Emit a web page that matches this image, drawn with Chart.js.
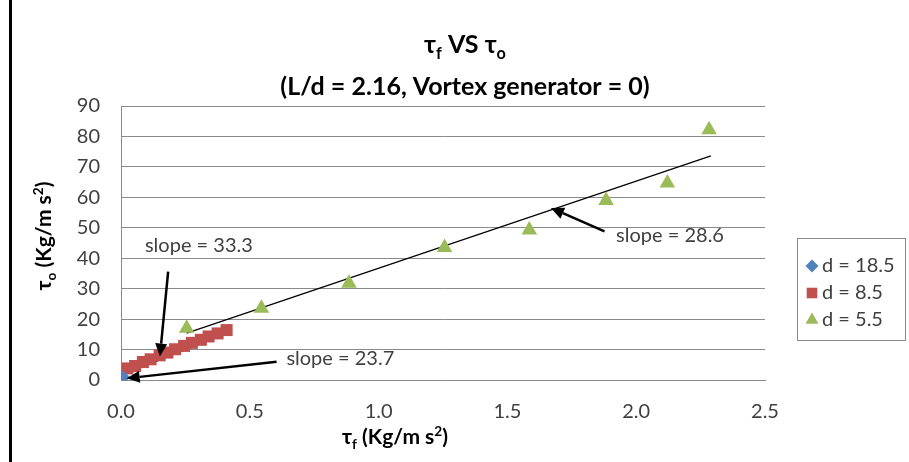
<!DOCTYPE html>
<html>
<head>
<meta charset="utf-8">
<script src="https://cdn.jsdelivr.net/npm/chart.js@4.4.0/dist/chart.umd.min.js"></script>
<style>
  html, body { margin: 0; padding: 0; background: #fff; }
  #wrap { width: 909px; height: 462px; position: relative; }
</style>
</head>
<body>
<div id="wrap"><canvas id="tauChart" width="909" height="462"></canvas></div>
<script>
// d = 18.5 (tau_f, tau_o)
const blueX = [0.002, 0.006, 0.010];
const blueY = [0.70, 0.79, 0.89];

// d = 8.5
const redX = [0.025, 0.055, 0.085, 0.115, 0.15, 0.18, 0.21, 0.245, 0.275, 0.31, 0.34, 0.375, 0.41];
const redY = [3.8, 4.6, 5.9, 6.8, 8.1, 9.0, 10.1, 11.2, 12.2, 13.2, 14.3, 15.3, 16.4];

// d = 5.5
const greenX = [0.255, 0.545, 0.885, 1.256, 1.585, 1.883, 2.121, 2.283];
const greenY = [17.0, 23.6, 31.8, 43.5, 49.3, 59.0, 64.7, 82.2];

// linear trend lines (end points)
const redTrendX = [0.025, 0.41];
const redTrendY = [2.4, 15.2];
const greenTrendX = [0.255, 2.29];
const greenTrendY = [15.4, 73.6];

const seriesLabels = ['d = 18.5', 'd = 8.5', 'd = 5.5'];
const xTicks = [0.0, 0.5, 1.0, 1.5, 2.0, 2.5];
const yTicks = [0, 10, 20, 30, 40, 50, 60, 70, 80, 90];

// slope notes, in data units: text left/middle, arrow tail -> head
const notes = [
    { text: 'slope = 33.3', x: 0.093, y: 44.2, fromX: 0.183, fromY: 35.6, toX: 0.151, toY: 7.7 },
    { text: 'slope = 23.7', x: 0.642, y: 7.1, fromX: 0.604, fromY: 6.0, toX: 0.022, toY: 0.56 },
    { text: 'slope = 28.6', x: 1.922, y: 47.4, fromX: 1.877, fromY: 48.8, toX: 1.669, toY: 56.5 }
];

const FONT = 'Lato, "Open Sans", sans-serif';
const TEXT = '#404040';

function pts(xs, ys) {
    return xs.map((x, i) => ({ x: x, y: ys[i] }));
}

// text with sub/superscripts, y = baseline
function drawRich(ctx, parts, x, y, size, bold, align) {
    const font = s => (bold ? 'bold ' : '') + s + 'px ' + FONT;
    let w = 0;
    parts.forEach(p => {
        ctx.font = font(p.sub || p.sup ? size * 0.65 : size);
        w += ctx.measureText(p.t).width;
    });
    let cx = align === 'center' ? x - w / 2 : x;
    ctx.textAlign = 'left';
    ctx.textBaseline = 'alphabetic';
    parts.forEach(p => {
        const s = p.sub || p.sup ? size * 0.65 : size;
        ctx.font = font(s);
        const dy = p.sub ? size * 0.22 : p.sup ? -size * 0.4 : 0;
        ctx.fillText(p.t, cx, y + dy);
        cx += ctx.measureText(p.t).width;
    });
}

function arrow(ctx, x1, y1, x2, y2) {
    const ang = Math.atan2(y2 - y1, x2 - x1);
    const len = 13, half = 6;
    const bx = x2 - Math.cos(ang) * len, by = y2 - Math.sin(ang) * len;
    ctx.beginPath();
    ctx.moveTo(x1, y1);
    ctx.lineTo(bx, by);
    ctx.stroke();
    ctx.beginPath();
    ctx.moveTo(x2, y2);
    ctx.lineTo(bx + Math.sin(ang) * half, by - Math.cos(ang) * half);
    ctx.lineTo(bx - Math.sin(ang) * half, by + Math.cos(ang) * half);
    ctx.closePath();
    ctx.fill();
}

const decorations = {
    id: 'decorations',
    beforeDraw(chart) {
        const ctx = chart.ctx;
        ctx.save();
        ctx.fillStyle = '#fff';
        ctx.fillRect(0, 0, chart.width, chart.height);
        ctx.fillStyle = '#000';
        ctx.fillRect(9, 0, 3, chart.height);
        ctx.restore();
    },
    afterDraw(chart) {
        const ctx = chart.ctx;
        const xs = chart.scales.x, ys = chart.scales.y;
        ctx.save();

        // titles
        ctx.fillStyle = '#000';
        drawRich(ctx, [{ t: '\u03C4' }, { t: 'f', sub: true }, { t: ' VS \u03C4' }, { t: 'o', sub: true }],
            465, 53, 25, true, 'center');
        drawRich(ctx, [{ t: '(L/d = 2.16, Vortex generator = 0)' }], 465, 95, 25, true, 'center');

        // axis titles
        drawRich(ctx, [{ t: '\u03C4' }, { t: 'f', sub: true }, { t: ' (Kg/m s' }, { t: '2', sup: true }, { t: ')' }],
            395, 444, 21, true, 'center');
        ctx.save();
        ctx.translate(51, 236);
        ctx.rotate(-Math.PI / 2);
        drawRich(ctx, [{ t: '\u03C4' }, { t: 'o', sub: true }, { t: ' (Kg/m s' }, { t: '2', sup: true }, { t: ')' }],
            0, 0, 21, true, 'center');
        ctx.restore();

        // slope notes with arrows
        ctx.fillStyle = '#000';
        ctx.strokeStyle = '#000';
        ctx.lineWidth = 2.5;
        notes.forEach(n => {
            arrow(ctx, xs.getPixelForValue(n.fromX), ys.getPixelForValue(n.fromY),
                xs.getPixelForValue(n.toX), ys.getPixelForValue(n.toY));
        });
        ctx.fillStyle = TEXT;
        ctx.font = '20px ' + FONT;
        ctx.textAlign = 'left';
        ctx.textBaseline = 'middle';
        notes.forEach(n => {
            ctx.fillText(n.text, xs.getPixelForValue(n.x), ys.getPixelForValue(n.y));
        });

        // legend box
        const lx = 797, ly = 238, lw = 108, lh = 102;
        ctx.strokeStyle = '#8a8a8a';
        ctx.lineWidth = 1;
        ctx.strokeRect(lx + 0.5, ly + 0.5, lw, lh);
        for (let i = 0; i < 3; i++) {
            const ds = chart.data.datasets[i];
            const cy = ly + 28 + i * 27;
            ctx.fillStyle = ds.backgroundColor;
            ctx.strokeStyle = ds.backgroundColor;
            Chart.helpers.drawPoint(ctx, {
                pointStyle: ds.pointStyle, radius: Math.min(ds.pointRadius, 7.5), rotation: 0, borderWidth: 0
            }, lx + 15, cy);
            ctx.fillStyle = TEXT;
            ctx.font = '20px ' + FONT;
            ctx.textBaseline = 'middle';
            ctx.fillText(ds.label, lx + 25, cy);
        }
        ctx.restore();
    }
};

const ctx = document.getElementById('tauChart').getContext('2d');

new Chart(ctx, {
    type: 'scatter',
    data: {
        datasets: [
            {
                label: seriesLabels[0], data: pts(blueX, blueY),
                pointStyle: 'rectRot', pointRadius: 6.5, backgroundColor: '#4F81BD', borderColor: '#4F81BD', borderWidth: 0
            },
            {
                label: seriesLabels[1], data: pts(redX, redY),
                pointStyle: 'rect', pointRadius: 8.5, backgroundColor: '#C0504D', borderColor: '#C0504D', borderWidth: 0
            },
            {
                label: seriesLabels[2], data: pts(greenX, greenY),
                pointStyle: 'triangle', pointRadius: 9, backgroundColor: '#9BBB59', borderColor: '#9BBB59', borderWidth: 0
            },
            {
                label: 'trend 8.5', data: pts(redTrendX, redTrendY), type: 'line', showLine: true,
                borderColor: '#000', borderWidth: 1.2, pointRadius: 0, fill: false
            },
            {
                label: 'trend 5.5', data: pts(greenTrendX, greenTrendY), type: 'line', showLine: true,
                borderColor: '#000', borderWidth: 1.2, pointRadius: 0, fill: false
            }
        ]
    },
    options: {
        responsive: false,
        animation: false,
        layout: { padding: { left: 0, right: 144, top: 106, bottom: 0 } },
        plugins: {
            legend: { display: false },
            title: { display: false },
            tooltip: { enabled: false }
        },
        scales: {
            x: {
                type: 'linear', min: 0, max: 2.5,
                afterBuildTicks: s => { s.ticks = xTicks.map(v => ({ value: v })); },
                afterFit: s => { s.height = 82; },
                grid: { display: false, drawTicks: false },
                border: { display: true, color: '#8a8a8a', width: 1 },
                ticks: {
                    padding: 20, color: TEXT, font: { family: FONT, size: 20 },
                    callback: v => Number(v).toFixed(1), maxRotation: 0
                }
            },
            y: {
                type: 'linear', min: 0, max: 90,
                afterBuildTicks: s => { s.ticks = yTicks.map(v => ({ value: v })); },
                afterFit: s => { s.width = 121; },
                grid: { color: '#8a8a8a', lineWidth: 1, drawTicks: false },
                border: { display: true, color: '#8a8a8a', width: 1 },
                ticks: { padding: 21, color: TEXT, font: { family: FONT, size: 20 } }
            }
        }
    },
    plugins: [decorations]
});
</script>
</body>
</html>
